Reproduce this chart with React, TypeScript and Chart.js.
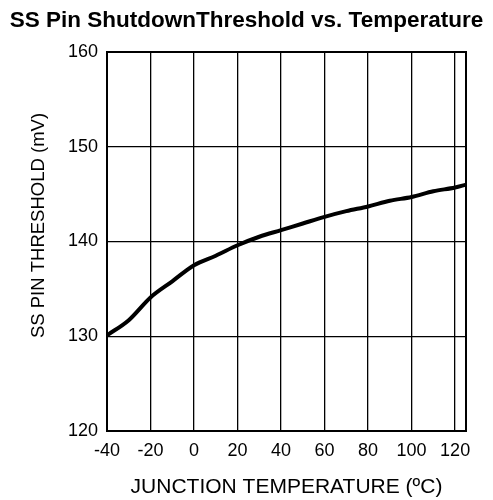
import React, { useEffect, useRef } from "react";
import { Chart, registerables } from "chart.js";

Chart.register(...registerables);

const temperatures = [-40, -30, -20, -10, 0, 10, 20, 30, 40, 50, 60, 70, 80, 90, 100, 110, 120, 125];
const thresholds = [130.1, 131.7, 134.1, 135.8, 137.5, 138.5, 139.6, 140.5, 141.2, 141.9, 142.6, 143.2, 143.7, 144.3, 144.7, 145.3, 145.7, 146.0];
const xTickLabels = [-40, -20, 0, 20, 40, 60, 80, 100, 120];
const yTickLabels = [120, 130, 140, 150, 160];
const yAxisTitle = "SS PIN THRESHOLD (mV)";

const FONT = "'Liberation Sans', Arial, Helvetica, sans-serif";

export default function App() {
  const ref = useRef<HTMLCanvasElement | null>(null);

  useEffect(() => {
    if (!ref.current) return;
    const chart = new Chart(ref.current, {
      type: "line",
      data: {
        datasets: [
          {
            data: temperatures.map((t, i) => ({ x: t, y: thresholds[i] })),
            borderColor: "#000",
            borderWidth: 4,
            pointRadius: 0,
            tension: 0.4,
            cubicInterpolationMode: "monotone",
            fill: false,
          },
        ],
      },
      options: {
        responsive: false,
        animation: false,
        layout: { padding: 0 },
        plugins: {
          legend: { display: false },
          tooltip: { enabled: false },
          title: {
            display: true,
            text: "SS Pin ShutdownThreshold vs. Temperature",
            color: "#000",
            font: { family: FONT, size: 22.5, weight: "bold", lineHeight: 1.2 },
            padding: { top: 7.5, bottom: 17.5 },
          },
        },
        scales: {
          x: {
            type: "linear",
            min: -40,
            max: 125,
            afterBuildTicks: (scale: any) => {
              scale.ticks = [...xTickLabels, 125].map((v) => ({ value: v }));
            },
            afterFit: (scale: any) => {
              scale.height = 69;
            },
            ticks: {
              color: "#000",
              font: { family: FONT, size: 18, lineHeight: 1.2 },
              padding: 9,
              maxRotation: 0,
              autoSkip: false,
              callback: (v: any) => (xTickLabels.includes(Number(v)) ? String(v) : ""),
            },
            grid: { color: "#000", lineWidth: 1.3, drawTicks: false },
            border: { color: "#000", width: 2 },
            title: {
              display: true,
              text: "JUNCTION TEMPERATURE (ºC)",
              color: "#000",
              font: { family: FONT, size: 21, lineHeight: 1.2 },
              padding: { top: 0, bottom: 0.5 },
            },
          },
          y: {
            type: "linear",
            min: 120,
            max: 160,
            afterBuildTicks: (scale: any) => {
              scale.ticks = yTickLabels.map((v) => ({ value: v }));
            },
            afterFit: (scale: any) => {
              scale.width = 107;
            },
            ticks: {
              color: "#000",
              font: { family: FONT, size: 18, lineHeight: 1.2 },
              padding: 9,
              callback: (v: any) => String(v),
            },
            grid: { color: "#000", lineWidth: 1.3, drawTicks: false },
            border: { color: "#000", width: 2 },
            title: { display: false, text: yAxisTitle },
          },
          yRight: {
            type: "linear",
            position: "right",
            min: 120,
            max: 160,
            afterFit: (scale: any) => {
              scale.width = 27;
            },
            ticks: { display: false },
            grid: { display: false, drawTicks: false },
            border: { display: false },
          },
        },
      },
      plugins: [
        {
          id: "frameAndYTitle",
          afterDatasetsDraw(c: any) {
            const { ctx, chartArea } = c;
            ctx.save();
            ctx.strokeStyle = "#000";
            ctx.lineWidth = 2;
            ctx.strokeRect(chartArea.left, chartArea.top, chartArea.right - chartArea.left, chartArea.bottom - chartArea.top);
            ctx.restore();
          },
          afterDraw(c: any) {
            const { ctx, chartArea } = c;
            const cy = (chartArea.top + chartArea.bottom) / 2 - 16;
            ctx.save();
            ctx.translate(38.5, cy);
            ctx.rotate(-Math.PI / 2);
            ctx.fillStyle = "#000";
            ctx.font = `18.5px ${FONT}`;
            ctx.textAlign = "center";
            ctx.textBaseline = "middle";
            ctx.fillText(yAxisTitle, 0, 0);
            ctx.restore();
          },
        },
      ],
    } as any);
    return () => chart.destroy();
  }, []);

  return (
    <div style={{ position: "absolute", left: 0, top: 0, width: 493, height: 500, background: "#fff" }}>
      <canvas ref={ref} width={493} height={500} style={{ display: "block" }} />
    </div>
  );
}
